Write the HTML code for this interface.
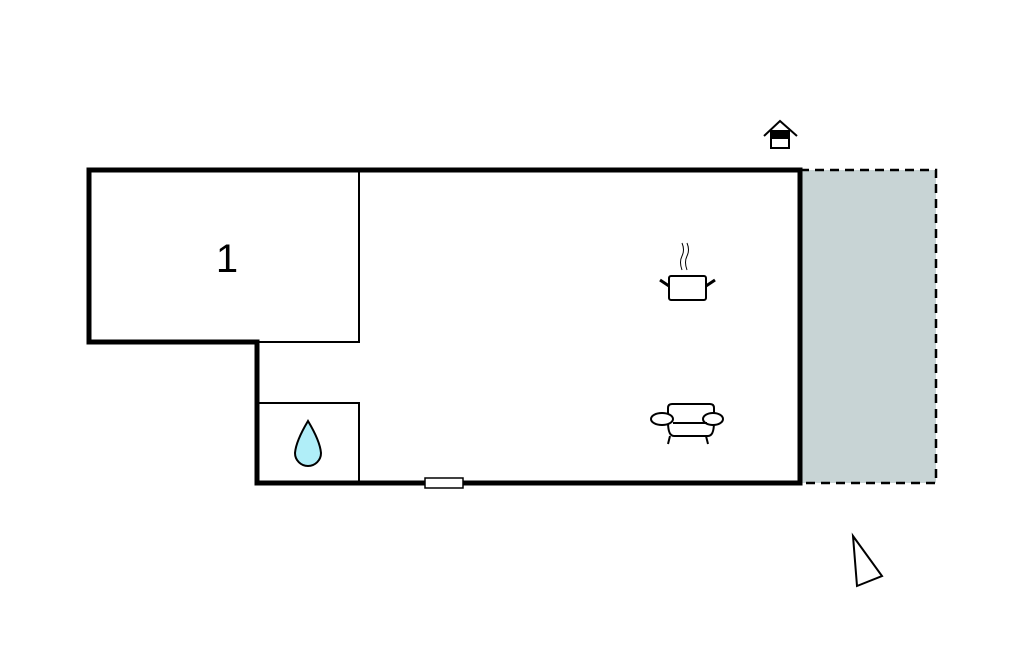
<!DOCTYPE html>
<html><head><style>html,body{margin:0;padding:0;background:#fff}</style></head><body>
<svg width="1024" height="652" viewBox="0 0 1024 652" xmlns="http://www.w3.org/2000/svg">
<rect x="800" y="170" width="136" height="313" fill="#c8d4d5"/>
<path d="M800 170 H936 V483 H800" fill="none" stroke="#000" stroke-width="2.5" stroke-dasharray="9,6"/>
<g stroke="#000" fill="none">
<path d="M359 170 V342 H257 M257 403 H359 V483" stroke-width="2"/>
<path d="M89 170 H800 V483 H257 V342 H89 Z" stroke-width="5" stroke-linejoin="miter"/>
</g>
<rect x="425" y="478" width="38" height="10" fill="#fff" stroke="#000" stroke-width="1.5"/>
<text x="227" y="272" font-family="Liberation Sans, sans-serif" font-size="40" text-anchor="middle">1</text>
<path d="M308 421 Q296 441 295 453 A13 13 0 0 0 321 453 Q320 441 308 421 Z" fill="#b0eef8" stroke="#000" stroke-width="2"/>
<!-- pot -->
<g stroke="#000" fill="none" stroke-width="2">
<rect x="669" y="276" width="37" height="24" rx="2" fill="#fff"/>
<path d="M669 286 L660 280 M706 286 L715 280" stroke-width="3"/>
<path d="M682 270 Q679 262 682 256 Q685 250 682 243 M687 270 Q684 262 687 256 Q690 250 687 243" stroke-width="1"/>
</g>
<!-- sofa -->
<g stroke="#000" fill="#fff" stroke-width="2">
<path d="M668 422 V408 Q668 404 672 404 H710 Q714 404 714 408 V422 Q714 436 708 436 H674 Q668 436 668 422 Z"/>
<ellipse cx="662" cy="419" rx="11" ry="6"/>
<ellipse cx="713" cy="419" rx="10" ry="6"/>
<path d="M673 423 H707 M670 436 L668 444 M706 436 L708 444" fill="none"/>
</g>
<!-- house icon -->
<g stroke="#000" fill="none" stroke-width="2">
<path d="M764 136 L780 121 L797 136"/>
<rect x="771" y="131" width="18" height="17" fill="#fff"/>
<rect x="771" y="131" width="18" height="7" fill="#000"/>
</g>
<!-- compass -->
<polygon points="853,536 857,586 882,576" fill="#fff" stroke="#000" stroke-width="2"/>
</svg>
</body></html>
